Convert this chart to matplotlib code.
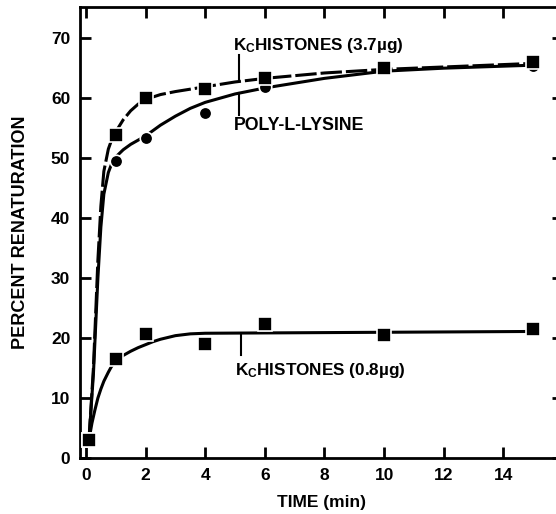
import matplotlib
matplotlib.use("Agg")
import matplotlib.pyplot as plt

plt.rcParams['font.family'] = ['Liberation Sans', 'DejaVu Sans']
plt.rcParams['font.weight'] = 'bold'
plt.rcParams['mathtext.fontset'] = 'custom'
plt.rcParams['mathtext.rm'] = 'Liberation Sans:bold'
plt.rcParams['mathtext.bf'] = 'Liberation Sans:bold'
plt.rcParams['mathtext.it'] = 'Liberation Sans:bold'

# measured data points
time_pts = [0.1, 1, 2, 4, 6, 10, 15]
hist37_pts = [3.0, 53.8, 60.0, 61.5, 63.3, 65.0, 66.0]
polylys_pts = [3.0, 49.5, 53.4, 57.5, 61.8, 65.3, 65.3]
hist08_pts = [3.0, 16.5, 20.7, 19.0, 22.4, 20.5, 21.5]

# fitted curves as drawn in the figure
hist37_curve_t = [0.1, 0.25, 0.4, 0.5, 0.6, 0.75, 0.85, 1.0, 1.25, 1.5, 1.75, 2.0, 2.5,
                  3.0, 4.0, 5.0, 6.0, 8.0, 10.0, 12.0, 15.0]
hist37_curve_y = [3.0, 15.0, 33.0, 42.0, 47.8, 51.5, 52.9, 54.4, 56.4, 57.9, 59.0, 59.8, 60.6,
                  61.1, 61.9, 62.7, 63.3, 64.2, 64.8, 65.2, 65.8]
polylys_curve_t = [0.1, 0.25, 0.4, 0.5, 0.6, 0.75, 0.85, 1.0, 1.25, 1.5, 1.75, 2.0, 2.5,
                   3.0, 3.5, 4.0, 5.0, 6.0, 8.0, 10.0, 12.0, 15.0]
polylys_curve_y = [3.0, 14.0, 30.0, 38.5, 44.0, 47.6, 48.9, 50.2, 51.4, 52.3, 53.0, 53.7, 55.5,
                   57.0, 58.3, 59.3, 60.7, 61.7, 63.3, 64.5, 65.0, 65.5]
hist08_curve_t = [0.1, 0.2, 0.3, 0.4, 0.5, 0.6, 0.75, 0.85, 1.0, 1.25, 1.5, 1.75, 2.0, 2.25,
                  2.5, 2.75, 3.0, 3.5, 4.0, 15.0]
hist08_curve_y = [3.0, 5.8, 8.0, 10.0, 11.5, 12.8, 14.3, 15.2, 16.2, 17.1, 17.8, 18.4, 18.9, 19.4,
                  19.8, 20.1, 20.4, 20.7, 20.8, 21.1]

xticks = [0, 2, 4, 6, 8, 10, 12, 14]
yticks = [0, 10, 20, 30, 40, 50, 60, 70]

fig = plt.figure(figsize=(5.56, 5.14), dpi=100)
ax = fig.add_axes([80/556, 56/514, 483/556, 451/514])

lw = 2.2
ax.plot(hist37_curve_t, hist37_curve_y, color='black', lw=lw, dashes=(7, 1.3), zorder=2)
ax.plot(polylys_curve_t, polylys_curve_y, color='black', lw=lw, zorder=2)
ax.plot(hist08_curve_t, hist08_curve_y, color='black', lw=lw, zorder=2)

ax.plot(time_pts, polylys_pts, 'o', color='black', ms=9, mec='white', mew=1.2, zorder=3)
ax.plot(time_pts, hist37_pts, 's', color='black', ms=9.5, mec='white', mew=1.2, zorder=4)
ax.plot(time_pts, hist08_pts, 's', color='black', ms=9.5, mec='white', mew=1.2, zorder=4)

ax.set_xlim(-0.2, 16.0)
ax.set_ylim(0, 75.2)
ax.set_xticks(xticks)
ax.set_yticks(yticks)
ax.tick_params(direction='in', length=8, width=2.0, top=True, right=True,
               labelsize=12.5, pad=7)
for lab in ax.get_xticklabels() + ax.get_yticklabels():
    lab.set_fontweight('bold')
for s in ax.spines.values():
    s.set_linewidth(2.0)

ax.set_xlabel('TIME (min)', fontsize=12.5, fontweight='bold', labelpad=9)
ax.set_ylabel('PERCENT RENATURATION', fontsize=13, fontweight='bold', labelpad=16)

# annotations with leader lines
ax.text(4.92, 68.0, r'K$_{\mathrm{C}}$HISTONES (3.7µg)', fontsize=12.3, fontweight='bold',
        ha='left', va='baseline')
ax.plot([5.13, 5.13], [67.2, 62.8], color='black', lw=1.5)
ax.plot([5.13, 5.13], [60.8, 57.2], color='black', lw=1.5)
ax.text(4.95, 54.7, 'POLY-L-LYSINE', fontsize=12.8, fontweight='bold', ha='left', va='baseline')
ax.text(5.0, 13.8, r'K$_{\mathrm{C}}$HISTONES (0.8µg)', fontsize=12.3, fontweight='bold',
        ha='left', va='baseline')
ax.plot([5.19, 5.19], [20.6, 17.2], color='black', lw=1.5)

fig.savefig('out.png', dpi=100)
